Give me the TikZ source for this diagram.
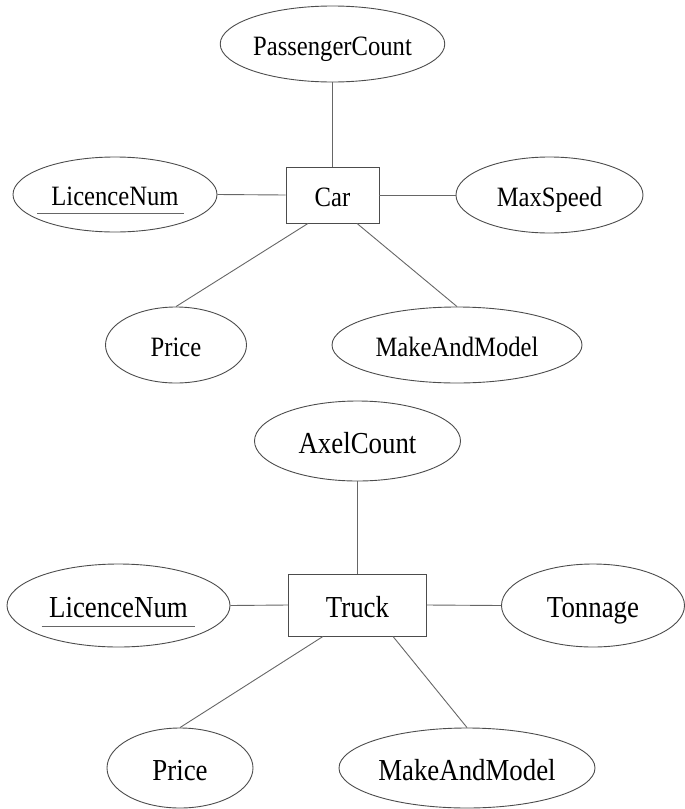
\documentclass[tikz,border=0pt]{standalone}
\usepackage{fontspec}
\setmainfont{Liberation Serif}[FakeStretch=0.88]
\usetikzlibrary{shapes.geometric}

\tikzset{
  attr/.style={ellipse, draw=black!70, line width=0.9pt, inner sep=0pt},
  entity/.style={rectangle, draw=black!70, line width=0.9pt, inner sep=0pt},
  link/.style={draw=black!60, line width=0.9pt},
  keyline/.style={draw=black!60, line width=0.9pt},
  smalltext/.style={font=\fontsize{28}{30}\selectfont, text height=22pt, text depth=0pt},
  bigtext/.style={font=\fontsize{30.5}{33}\selectfont, text height=24pt, text depth=0pt},
}

\begin{document}
\begin{tikzpicture}[x=1pt, y=-1pt]
  \useasboundingbox (0,0) rectangle (685,809);

  % ---- Car entity and its attributes ----
  \begin{scope}[every node/.append style={smalltext}]
    \node[entity, minimum width=93pt, minimum height=56pt] (car) at (332.5,195) {Car};
    \node[attr, minimum width=220pt, minimum height=76pt] (pc)  at (332.5,44)  {PassengerCount};
    \node[attr, minimum width=204pt, minimum height=75pt] (lic) at (115,194.5) {LicenceNum};
    \node[attr, minimum width=187pt, minimum height=76pt] (ms)  at (549.5,195) {MaxSpeed};
    \node[attr, minimum width=141pt, minimum height=76pt] (pr)  at (176,345)   {Price};
    \node[attr, minimum width=250pt, minimum height=76pt] (mm)  at (457,345)   {MakeAndModel};
  \end{scope}
  \draw[keyline] ([shift={(-78,19)}]lic.center) -- ++(147,0);

  \draw[link] (pc.south) -- (car.north);
  \draw[link] (lic.east) -- (car.west);
  \draw[link] (car.east) -- (ms.west);
  \draw[link] ([xshift=-24.5pt]car.south) -- (pr.north);
  \draw[link] ([xshift=24.5pt]car.south) -- (mm.north);

  % ---- Truck entity and its attributes ----
  \begin{scope}[every node/.append style={bigtext}]
    \node[entity, minimum width=138pt, minimum height=62pt] (truck) at (357.5,605) {Truck};
    \node[attr, minimum width=206pt, minimum height=80pt] (ax)   at (357.5,441)   {AxelCount};
    \node[attr, minimum width=223pt, minimum height=83pt] (lic2) at (118.5,605.5) {LicenceNum};
    \node[attr, minimum width=183pt, minimum height=83pt] (ton)  at (593,605.5)   {Tonnage};
    \node[attr, minimum width=146pt, minimum height=80pt] (pr2)  at (180,768)     {Price};
    \node[attr, minimum width=256pt, minimum height=80pt] (mm2)  at (467,768)     {MakeAndModel};
  \end{scope}
  \draw[keyline] ([shift={(-77,20.5)}]lic2.center) -- ++(153,0);

  \draw[link] (ax.south) -- (truck.north);
  \draw[link] (lic2.east) -- (truck.west);
  \draw[link] (truck.east) -- (ton.west);
  \draw[link] ([xshift=-34.5pt]truck.south) -- (pr2.north);
  \draw[link] ([xshift=35.5pt]truck.south) -- (mm2.north);
\end{tikzpicture}
\end{document}
